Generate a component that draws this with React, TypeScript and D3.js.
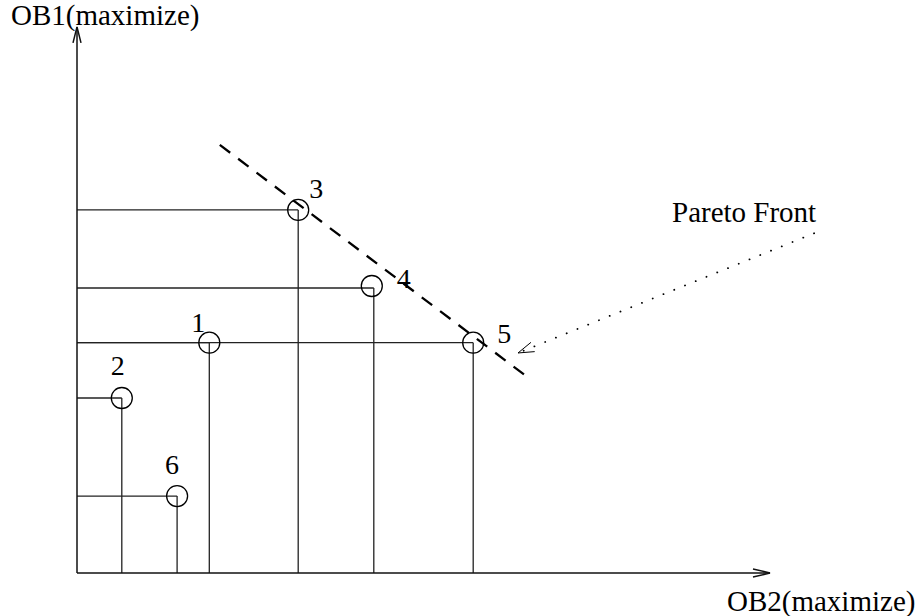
import React from "react";
import * as d3 from "d3";

// Data (arbitrary objective units)
const pointIds = ["1", "2", "3", "4", "5", "6"];
const ob2Values = [1.89, 0.64, 3.16, 4.24, 5.66, 1.43];
const ob1Values = [4.04, 3.07, 6.37, 5.0, 4.04, 1.35];
// label offsets (in px) relative to point
const labelDx = [-18, -11, 11, 23, 24, -12];
const labelDy = [-11, -23, -12, 0, 0, -22];
const frontX = [2.04, 6.4];
const frontY = [7.51, 3.47];
const pointerX = [10.53, 6.3];
const pointerY = [5.96, 3.86];
const xAxisEnd = 9.9;
const yAxisEnd = 9.58;
const xLabel = "OB2(maximize)";
const yLabel = "OB1(maximize)";
const frontLabel = "Pareto Front";

const W = 923;
const H = 616;
const FONT = "'Liberation Serif', 'Times New Roman', serif";

export default function App() {
  const x = d3.scaleLinear().domain([0, 10]).range([77, 777]);
  const y = d3.scaleLinear().domain([0, 10]).range([573, 3]);
  const line = d3.line<[number, number]>().x((d) => x(d[0])).y((d) => y(d[1]));

  const arrowHead = (x1: number, y1: number, x2: number, y2: number, len: number, hw: number) => {
    const dx = x2 - x1;
    const dy = y2 - y1;
    const L = Math.hypot(dx, dy);
    const ux = dx / L;
    const uy = dy / L;
    const bx = x2 - ux * len;
    const by = y2 - uy * len;
    const px = -uy;
    const py = ux;
    return `M${bx + px * hw},${by + py * hw}L${x2},${y2}L${bx - px * hw},${by - py * hw}`;
  };

  const pts = pointIds.map((id, i) => ({ id, xv: ob2Values[i], yv: ob1Values[i], i }));

  const px0 = x(pointerX[0]), py0 = y(pointerY[0]), px1 = x(pointerX[1]), py1 = y(pointerY[1]);

  return (
    <svg width={W} height={H} style={{ position: "absolute", left: 0, top: 0, background: "#fff" }}>
      {/* guide lines */}
      {pts.map((p) => (
        <g key={"g" + p.id} stroke="#222" strokeWidth={1.3} fill="none">
          <path d={line([[0, p.yv], [p.xv, p.yv]])!} />
          <path d={line([[p.xv, p.yv], [p.xv, 0]])!} />
        </g>
      ))}
      {/* axes */}
      <g stroke="#111" strokeWidth={1.5} fill="none">
        <path d={line([[0, 0], [0, yAxisEnd]])!} />
        <path d={line([[0, 0], [xAxisEnd, 0]])!} />
        <path d={arrowHead(x(0), y(0), x(0), y(yAxisEnd), 16, 4)} />
        <path d={arrowHead(x(0), y(0), x(xAxisEnd), y(0), 17, 4)} />
      </g>
      {/* pareto front dashed */}
      <path
        d={line([[frontX[0], frontY[0]], [frontX[1], frontY[1]]])!}
        stroke="#000"
        strokeWidth={2.3}
        strokeDasharray="13 10"
        fill="none"
      />
      {/* pointer dotted arrow */}
      <path
        d={line([[pointerX[0], pointerY[0]], [pointerX[1], pointerY[1]]])!}
        stroke="#000"
        strokeWidth={1.8}
        strokeDasharray="0.1 11.5"
        strokeLinecap="round"
        fill="none"
      />
      <path d={arrowHead(px0, py0, px1, py1, 16, 5)} stroke="#000" strokeWidth={1} fill="none" />
      {/* points */}
      {pts.map((p) => (
        <circle key={"c" + p.id} cx={x(p.xv) - (p.id === "4" ? 2 : 0)} cy={y(p.yv) - (p.id === "4" ? 2 : 0)} r={10.5} fill="none" stroke="#000" strokeWidth={1.3} />
      ))}
      {/* point labels */}
      {pts.map((p) => (
        <text
          key={"t" + p.id}
          x={x(p.xv) + labelDx[p.i]}
          y={y(p.yv) + labelDy[p.i]}
          fontFamily={FONT}
          fontSize={28}
          fill="#000"
        >
          {p.id}
        </text>
      ))}
      <text x={11} y={25} fontFamily={FONT} fontSize={29} fill="#000">
        {yLabel}
      </text>
      <text x={727} y={611} fontFamily={FONT} fontSize={29} fill="#000">
        {xLabel}
      </text>
      <text x={672} y={222} fontFamily={FONT} fontSize={29} fill="#000">
        {frontLabel}
      </text>
    </svg>
  );
}
